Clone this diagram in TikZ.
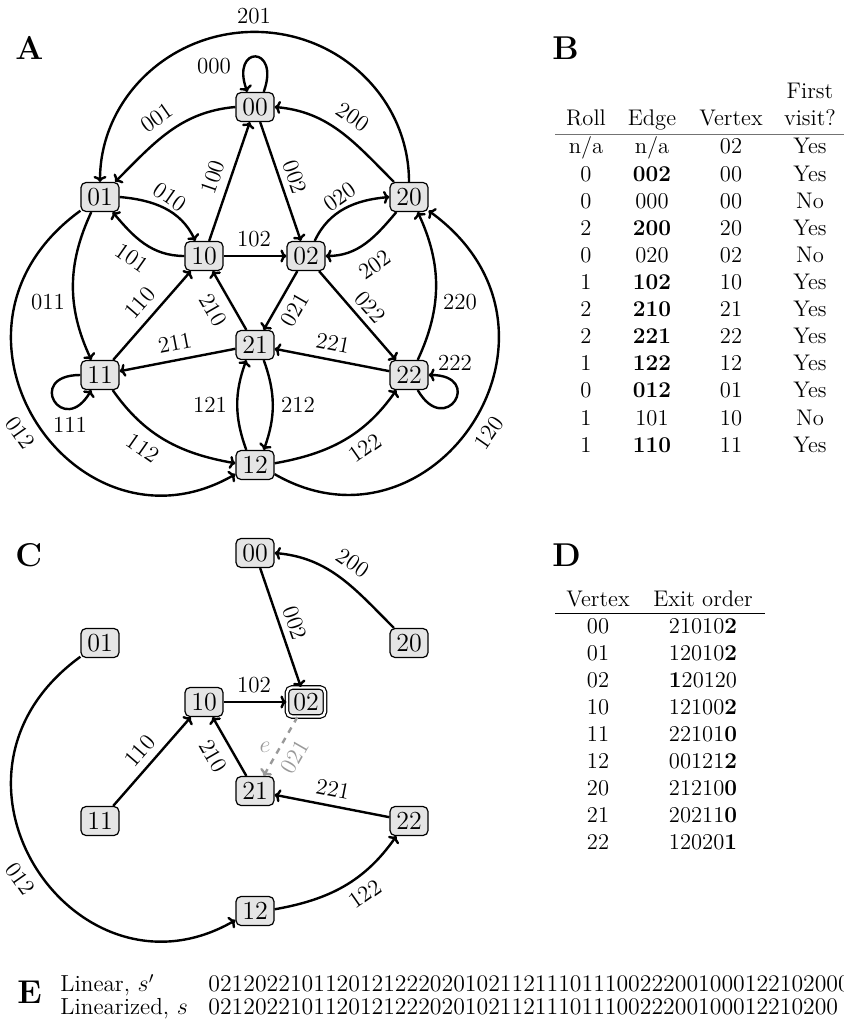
\documentclass[tikz,border=0pt]{standalone}
\usetikzlibrary{arrows.meta}
\newcommand\nslash{n/a}
\begin{document}
\begin{tikzpicture}[x=0.5pt,y=0.5pt,
  vtx/.style={draw,line width=0.6pt,fill=black!10,rounded corners=2.5pt,minimum width=19pt,minimum height=14.5pt,inner sep=0pt,font=\fontsize{13}{15}\selectfont},
  arr/.style={line width=1.2pt,-{Computer Modern Rightarrow[length=3pt,width=6.5pt]}},
  lbl/.style={inner sep=0pt,font=\fontsize{11.5}{13}\selectfont},
  panel/.style={anchor=base west,inner sep=0pt,font=\fontsize{16.5}{19}\selectfont\bfseries},
  cell/.style={anchor=base,inner sep=0pt,font=\fontsize{11.3}{13}\selectfont},
  etxt/.style={anchor=base west,inner sep=0pt,font=\fontsize{11.6}{13}\selectfont},
  edig/.style={anchor=base west,inner sep=0pt,font=\fontsize{11.9}{13}\selectfont},
  ghost/.style={black!40},
]
\useasboundingbox (0,0) rectangle (844,-1026);

% ---------------- Panel A ----------------
\node[panel] (pA) at (15,-60) {A};
\foreach \n/\x/\y in {00/255/107,01/100/197,20/409/197,10/204/256,02/306/256,21/255/345,11/100/375,22/409/375,12/255/465}
  \node[vtx] (a\n) at (\x,-\y) {\n};

\draw[arr] (a00.60) to[out=70,in=110,distance=25pt] (a00.117);
\draw[arr] (a20.north) arc[start angle=0,end angle=180,x radius=154.5,y radius=150];
\draw[arr] (a00.west) to[out=185,in=45] (a01.45);
\draw[arr] (a20.135) to[out=135,in=-5] (a00.east);
\draw[arr] (a10) -- (a00);
\draw[arr] (a00) -- (a02);
\draw[arr] (a10) -- (a02);
\draw[arr] (a01.east) to[out=-5,in=115] (a10.120);
\draw[arr] (a10.west) to[out=180,in=-50] (a01.-50);
\draw[arr] (a02.60) to[out=65,in=185] (a20.west);
\draw[arr] (a20.-130) to[out=-130,in=0] (a02.east);
\draw[arr] (a01.-120) to[out=-115,in=115] (a11.120);
\draw[arr] (a22.60) to[out=65,in=-65] (a20.-60);
\draw[arr] (a11) -- (a10);
\draw[arr] (a21) -- (a10);
\draw[arr] (a02) -- (a21);
\draw[arr] (a02) -- (a22);
\draw[arr] (a21) -- (a11);
\draw[arr] (a22) -- (a21);
\draw[arr] (a11.west) to[out=180,in=-120,distance=28pt] (a11.-120);
\draw[arr] (a22.-60) to[out=-60,in=0,distance=28pt] (a22.east);
\draw[arr] (a12.120) to[out=110,in=-110] (a21.-120);
\draw[arr] (a21.-60) to[out=-70,in=70] (a12.60);
\draw[arr] (a11.-50) to[out=-55,in=170] (a12.175);
\draw[arr] (a12.5) to[out=10,in=-125] (a22.-130);
\draw[arr] (a01.-145) to[out=-144,in=-150,out distance=102pt,in distance=92pt] (a12.205);
\draw[arr] (a12.-25) to[out=-30,in=-36,out distance=92pt,in distance=102pt] (a20.-35);

\node[lbl] (l201) at (254,-16) {201};
\node[lbl] (l000) at (214,-66) {000};
\node[lbl,rotate=35] (l001) at (157,-118) {001};
\node[lbl,rotate=-35] (l200) at (353,-117) {200};
\node[lbl,rotate=71] (l100) at (213,-177) {100};
\node[lbl,rotate=-71] (l002) at (295,-177) {002};
\node[lbl,rotate=-35] (l010) at (170,-197) {010};
\node[lbl,rotate=35] (l020) at (340,-197) {020};
\node[lbl,rotate=-35] (l101) at (132,-258) {101};
\node[lbl] (l102) at (254,-239) {102};
\node[lbl,rotate=35] (l202) at (375,-265) {202};
\node[lbl] (l011) at (48,-302) {011};
\node[lbl] (l220) at (460,-302) {220};
\node[lbl,rotate=49] (l110) at (140,-303) {110};
\node[lbl,rotate=-60] (l210) at (213,-310) {210};
\node[lbl,rotate=60] (l021) at (295,-310) {021};
\node[lbl,rotate=-49] (l022) at (370,-307) {022};
\node[lbl,rotate=11] (l211) at (175,-343) {211};
\node[lbl,rotate=-11] (l221) at (333,-343) {221};
\node[lbl] (l222) at (455,-363) {222};
\node[lbl] (l111) at (70,-425) {111};
\node[lbl] (l121) at (210,-405) {121};
\node[lbl] (l212) at (298,-405) {212};
\node[lbl,rotate=-35] (l112) at (143,-448) {112};
\node[lbl,rotate=35] (l122) at (365,-448) {122};
\node[lbl,rotate=-55] (l012) at (20,-433) {012};
\node[lbl,rotate=55] (l120) at (489,-433) {120};

% ---------------- Panel B ----------------
\node[panel] (pB) at (552,-60) {B};
\node[cell] (bh0) at (810,-99) {First};
\foreach \t/\x [count=\i] in {Roll/586,Edge/652,Vertex/731,visit?/810}
  \node[cell] (bh\i) at (\x,-126) {\t};
\draw[line width=0.5pt,black!55] (555,-135) -- (844,-135);
\foreach \ra/\rb/\rc/\rd [count=\i from 0] in {\nslash/\nslash/02/Yes,0/\textbf{002}/00/Yes,0/000/00/No,2/\textbf{200}/20/Yes,0/020/02/No,1/\textbf{102}/10/Yes,2/\textbf{210}/21/Yes,2/\textbf{221}/22/Yes,1/\textbf{122}/12/Yes,0/\textbf{012}/01/Yes,1/101/10/No,1/\textbf{110}/11/Yes}{
  \node[cell] (b\i-1) at (586,{-154-27.1*\i}) {\ra};
  \node[cell] (b\i-2) at (652,{-154-27.1*\i}) {\rb};
  \node[cell] (b\i-3) at (731,{-154-27.1*\i}) {\rc};
  \node[cell] (b\i-4) at (810,{-154-27.1*\i}) {\rd};
}

% ---------------- Panel C ----------------
\node[panel] (pC) at (15,-566) {C};
\begin{scope}[shift={(0,-446)}]
\foreach \n/\x/\y in {00/255/107,01/100/197,20/409/197,10/204/256,21/255/345,11/100/375,22/409/375,12/255/465}
  \node[vtx] (c\n) at (\x,-\y) {\n};
\node[vtx,double,double distance=1.2pt] (c02) at (306,-256) {02};

\draw[arr] (c20.135) to[out=135,in=-5] (c00.east);
\draw[arr] (c00) -- (c02);
\draw[arr] (c10) -- (c02);
\draw[arr] (c11) -- (c10);
\draw[arr] (c21) -- (c10);
\draw[arr,ghost,dashed] (c02) -- (c21);
\draw[arr] (c22) -- (c21);
\draw[arr] (c01.-145) to[out=-144,in=-150,out distance=102pt,in distance=92pt] (c12.205);
\draw[arr] (c12.5) to[out=10,in=-125] (c22.-130);

\node[lbl,rotate=-35] (m200) at (353,-117) {200};
\node[lbl,rotate=-71] (m002) at (295,-177) {002};
\node[lbl] (m102) at (254,-239) {102};
\node[lbl,rotate=49] (m110) at (140,-305) {110};
\node[lbl,rotate=-60] (m210) at (213,-310) {210};
\node[lbl,ghost] (me) at (265,-301) {$e$};
\node[lbl,ghost,rotate=60] (m021) at (295,-311) {021};
\node[lbl,rotate=-11] (m221) at (333,-343) {221};
\node[lbl,rotate=-55] (m012) at (20,-433) {012};
\node[lbl,rotate=35] (m122) at (365,-448) {122};
\end{scope}

% ---------------- Panel D ----------------
\node[panel] (pD) at (552,-566) {D};
\node[cell] (dh1) at (598,-606) {Vertex};
\node[cell] (dh2) at (703,-606) {Exit order};
\draw[line width=0.5pt] (555,-613) -- (765,-613);
\foreach \va/\vb [count=\i from 0] in {00/21010\textbf{2},01/12010\textbf{2},02/\textbf{1}20120,10/12100\textbf{2},11/22101\textbf{0},12/00121\textbf{2},20/21210\textbf{0},21/20211\textbf{0},22/12020\textbf{1}}{
  \node[cell] (d\i-1) at (598,{-633-27.04*\i}) {\va};
  \node[cell] (d\i-2) at (703,{-633-27.04*\i}) {\vb};
}

% ---------------- Panel E ----------------
\node[panel] (pE) at (17,-1003) {E};
\node[etxt] (e1) at (60,-991.7) {Linear, $s'$};
\node[etxt] (e2) at (60,-1014.3) {Linearized, $s$};
\node[edig] (e3) at (208,-991.7) {02120221011201212220201021121110111002220010001221020002};
\node[edig] (e4) at (208,-1014.3) {021202210112012122202010211211101110022200100012210200};
\end{tikzpicture}
\end{document}
